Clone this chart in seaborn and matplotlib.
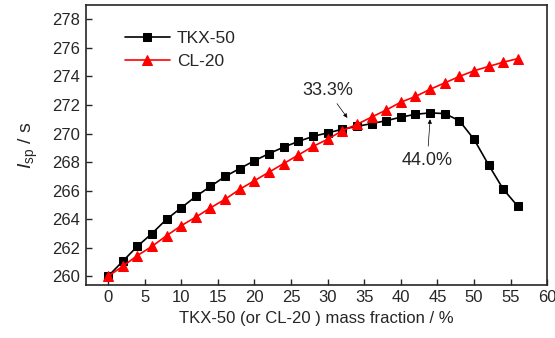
import numpy as np
import pandas as pd
import seaborn as sns
import matplotlib.pyplot as plt

# mass fraction (%) of TKX-50 or CL-20
mass_fraction = list(range(0, 58, 2))

# specific impulse (s)
isp_tkx50 = [260.0, 261.05, 262.1, 263.0, 264.0, 264.8, 265.6, 266.3, 267.0, 267.55,
             268.1, 268.6, 269.05, 269.45, 269.8, 270.05, 270.3, 270.5, 270.7, 270.9,
             271.15, 271.35, 271.45, 271.4, 270.9, 269.6, 267.8, 266.1, 264.9]
isp_cl20 = [260.0, 260.7, 261.45, 262.1, 262.85, 263.55, 264.15, 264.8, 265.4, 266.1,
            266.7, 267.3, 267.9, 268.5, 269.1, 269.6, 270.2, 270.65, 271.15, 271.65,
            272.2, 272.6, 273.1, 273.55, 274.0, 274.4, 274.7, 275.0, 275.25]

series_names = ["TKX-50", "CL-20"]
series_colors = {"TKX-50": "black", "CL-20": "red"}
series_markers = {"TKX-50": "s", "CL-20": "^"}

x_ticks = list(range(0, 65, 5))
y_ticks = list(range(260, 280, 2))

df = pd.concat([
    pd.DataFrame({"x": mass_fraction, "isp": isp_tkx50, "series": "TKX-50"}),
    pd.DataFrame({"x": mass_fraction, "isp": isp_cl20, "series": "CL-20"}),
])

sns.set_style("ticks")
plt.rcParams["font.family"] = ["Liberation Sans", "DejaVu Sans"]
plt.rcParams["mathtext.fontset"] = "custom"
plt.rcParams["mathtext.it"] = "Liberation Sans:italic"
plt.rcParams["mathtext.rm"] = "Liberation Sans"

fig = plt.figure(figsize=(5.55, 3.38), dpi=100)
ax = fig.add_axes([0.155, 0.157, 0.831, 0.828])

sns.lineplot(data=df, x="x", y="isp", hue="series", style="series",
             hue_order=series_names, style_order=series_names,
             palette=series_colors, markers=series_markers, dashes=False,
             markersize=7, linewidth=1.2, ax=ax)

# make marker edges match the line colour
for line in ax.lines:
    line.set_markeredgecolor(line.get_color())
    if line.get_marker() == "s":
        line.set_markersize(6)

ax.set_xlim(-3, 60)
ax.set_ylim(259.4, 279)
ax.set_xticks(x_ticks)
ax.set_yticks(y_ticks)
ax.tick_params(direction="in", length=4, width=1, labelsize=12, pad=4)
for sp in ax.spines.values():
    sp.set_linewidth(1.2)
    sp.set_visible(True)

ax.set_xlabel("TKX-50 (or CL-20 ) mass fraction / %", fontsize=12)
ax.set_ylabel(r"$I_{\mathrm{sp}}$ / s", fontsize=14, labelpad=9)

leg = ax.legend(loc="upper left", bbox_to_anchor=(0.05, 0.965), frameon=False,
                fontsize=12.5, handlelength=2.6, handletextpad=0.4, labelspacing=0.5)

ax.annotate("33.3%", xy=(32.7, 271.1), xytext=(30.0, 273.0),
            ha="center", va="center", fontsize=13,
            arrowprops=dict(arrowstyle="-|>", color="black", lw=0.5,
                            mutation_scale=6, shrinkA=1, shrinkB=0))
ax.annotate("44.0%", xy=(44.0, 271.0), xytext=(43.6, 268.1),
            ha="center", va="center", fontsize=13,
            arrowprops=dict(arrowstyle="-|>", color="black", lw=0.5,
                            mutation_scale=6, shrinkA=2, shrinkB=0))

fig.savefig("out.png", dpi=100)
